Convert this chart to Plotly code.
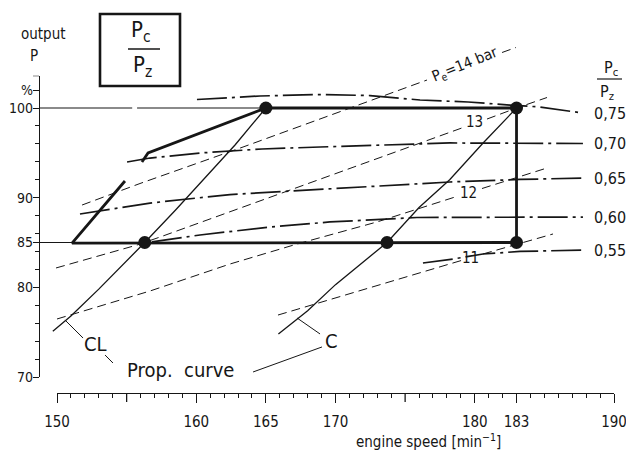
import plotly.graph_objects as go

# ---------------------------------------------------------------- data
# operating points (engine speed [1/min], output P [%])
pt_speed = [165.0, 183.0, 156.3, 173.7, 183.0]
pt_power = [100.0, 100.0, 85.0, 85.0, 85.0]

# propeller curves
cl_speed = [149.7, 151.0, 153.0, 156.3, 158.5, 160.5, 162.8, 165.0]
cl_power = [75.1, 76.8, 79.8, 85.0, 88.6, 92.0, 95.9, 100.0]
c_speed = [165.9, 168.0, 170.0, 173.7, 176.0, 178.2, 180.6, 183.0]
c_power = [74.8, 77.4, 80.3, 85.0, 88.9, 92.0, 96.1, 100.0]

# layout limit lines
top_speed = [183.0, 165.0, 156.54, 156.1]
top_power = [100.0, 100.0, 94.98, 93.98]
low_speed = [154.88, 151.08, 183.0, 183.0]
low_power = [91.86, 84.94, 85.0, 100.0]
ref100_a_speed = [148.71, 155.40]
ref100_b_speed = [155.75, 165.0]
ref100_power = [100.0, 100.0]
ref85_speed = [148.71, 151.08]
ref85_power = [85.0, 85.0]

# pc/pz curves
pcpz_labels = ["0,75", "0,70", "0,65", "0,60", "0,55"]
r75_speed = [160.05, 162.42, 164.58, 168.89, 172.48, 176.07, 179.52, 182.53, 184.69, 187.77]
r75_power = [100.95, 101.17, 101.34, 101.5, 101.39, 100.89, 100.67, 100.33, 100.11, 99.44]
r70_speed = [155.03, 156.68, 160.27, 164.72, 168.89, 178.22, 187.77]
r70_power = [93.98, 94.42, 94.98, 95.43, 95.65, 96.1, 96.04]
r65_speed = [151.65, 156.68, 162.42, 170.32, 178.22, 183.25, 187.77]
r65_power = [88.18, 89.4, 90.35, 91.08, 91.75, 92.03, 92.19]
r60_speed = [156.82, 160.27, 165.3, 169.6, 175.85, 181.81, 187.77]
r60_power = [85.06, 85.84, 86.73, 87.29, 87.79, 87.84, 87.84]
r55_speed = [176.28, 178.44, 180.59, 183.25, 187.77]
r55_power = [82.71, 83.16, 83.72, 84.0, 84.16]

# mean effective pressure lines (bar)
pe_labels = ["13", "12", "11"]
pe14_speed = [151.8, 155.96, 163.36, 176.57]
pe14_power = [89.18, 91.58, 95.65, 103.12]
pe14_tail_speed = [181.96, 182.96]
pe14_tail_power = [106.19, 106.75]
pe13_speed = [149.93, 155.75, 157.4, 165.3, 178.01, 179.16]
pe13_power = [82.16, 84.72, 85.61, 90.07, 97.21, 97.82]
pe13_tail_speed = [180.88, 183.01, 185.19]
pe13_tail_power = [98.77, 100.0, 101.17]
pe12_speed = [150.0, 156.68, 162.42, 167.24, 172.98, 178.58]
pe12_power = [76.47, 79.59, 82.6, 84.83, 87.29, 90.07]
pe12_tail_speed = [180.52, 185.19]
pe12_tail_power = [91.02, 93.31]
pe11_speed = [165.87, 172.48, 179.16]
pe11_power = [76.91, 79.93, 83.05]
pe11_tail_speed = [180.59, 185.62]
pe11_tail_power = [83.72, 85.95]

# leader lines for the curve labels
lead_cl_speed = [150.57, 151.87]
lead_cl_power = [76.36, 74.35]
lead_cl2_speed = [153.45, 154.02]
lead_cl2_power = [72.45, 71.56]
lead_prop_speed = [164.08, 169.03]
lead_prop_power = [70.56, 73.35]
lead_c_speed = [167.24, 168.89]
lead_c_power = [76.58, 74.8]

# axes ticks
x_major = [150, 160, 165, 170, 180, 183, 190]
x_major_text = ["150", "160", "165", "170", "180", "183", "190"]
x_long_unlabelled = [155, 175]
x_minor = [v for v in range(151, 190) if v not in x_major + x_long_unlabelled]
y_major = [70, 80, 85, 90, 100, 102]
y_major_text = ["70", "80", "85", "90", "100", "%"]
y_minor = [v for v in range(72, 102, 2) if v not in y_major]

# ---------------------------------------------------------------- layout helpers
W, H = 626, 451
INK = "#161616"
FONT = "DejaVu Sans Condensed, Liberation Sans Narrow, DejaVu Sans, sans-serif"
X0_PX, X1_PX, XA, XB = 57, 614, 150.0, 190.0
Y0_PX, Y1_PX, YA, YB = 377, 108, 70.0, 100.0
sx = (X1_PX - X0_PX) / (XB - XA)
sy = (Y0_PX - Y1_PX) / (YB - YA)
x_full = [XA - X0_PX / sx, XA + (W - X0_PX) / sx]
y_full = [YA - (H - Y0_PX) / sy, YA + Y0_PX / sy]
Y_TOP = 103.6
ytop_px = Y0_PX - (Y_TOP - YA) * sy
XAXIS_PX = 393
YAXIS_PX = 39


def pxx(p):
    return p / W


def pxy(p):
    return 1 - p / H


fig = go.Figure()


def line(xs, ys, width=1.2, dash="solid"):
    fig.add_trace(go.Scatter(x=xs, y=ys, mode="lines", hoverinfo="skip",
                             line=dict(color=INK, width=width, dash=dash)))


DASHDOT = "30px,5px,3px,5px"
DASH = "9px,5px"

# pe lines
for xs, ys in [(pe14_speed, pe14_power), (pe14_tail_speed, pe14_tail_power),
               (pe13_speed, pe13_power), (pe13_tail_speed, pe13_tail_power),
               (pe12_speed, pe12_power), (pe12_tail_speed, pe12_tail_power),
               (pe11_speed, pe11_power), (pe11_tail_speed, pe11_tail_power)]:
    line(xs, ys, 1.0, DASH)

# pc/pz curves
for xs, ys in [(r75_speed, r75_power), (r70_speed, r70_power), (r65_speed, r65_power),
               (r60_speed, r60_power), (r55_speed, r55_power)]:
    line(xs, ys, 1.7, DASHDOT)

# thin reference lines and propeller curves
line(ref100_a_speed, ref100_power, 1.1)
line(ref100_b_speed, ref100_power, 1.1)
line(ref85_speed, ref85_power, 1.1)
line(cl_speed, cl_power, 1.3)
line(c_speed, c_power, 1.3)
for xs, ys in [(lead_cl_speed, lead_cl_power), (lead_cl2_speed, lead_cl2_power),
               (lead_prop_speed, lead_prop_power), (lead_c_speed, lead_c_power)]:
    line(xs, ys, 1.0)

# thick layout limits
line(top_speed, top_power, 2.8)
line(low_speed, low_power, 2.8)

# operating points on the visible axes
fig.add_trace(go.Scatter(x=pt_speed, y=pt_power, mode="markers", xaxis="x2", yaxis="y2",
                         hoverinfo="skip", cliponaxis=False,
                         marker=dict(color=INK, size=13)))

axis_common = dict(showgrid=False, zeroline=False, showline=True, linecolor=INK, linewidth=1.4,
                   ticks="outside", tickcolor=INK, tickwidth=1.3, fixedrange=True,
                   automargin=False, ticklabeloverflow="allow",
                   tickfont=dict(family=FONT, size=15, color=INK))

fig.update_layout(
    template="none",
    width=W, height=H, margin=dict(l=0, r=0, t=0, b=0, pad=0, autoexpand=False),
    paper_bgcolor="white", plot_bgcolor="rgba(0,0,0,0)", showlegend=False,
    xaxis=dict(domain=[0, 1], range=x_full, visible=False, fixedrange=True, automargin=False),
    yaxis=dict(domain=[0, 1], range=y_full, visible=False, fixedrange=True, automargin=False),
    xaxis2=dict(domain=[pxx(X0_PX), pxx(X1_PX)], range=[XA, XB], anchor="free",
                position=pxy(XAXIS_PX), side="bottom", tickmode="array", tickvals=x_major,
                ticktext=x_major_text, ticklen=9, ticklabelstandoff=6,
                minor=dict(tickmode="array", tickvals=x_minor, ticklen=4, ticks="outside",
                           tickcolor=INK, tickwidth=1.1),
                **axis_common),
    yaxis2=dict(domain=[pxy(Y0_PX), pxy(ytop_px)], range=[YA, Y_TOP], anchor="free",
                position=pxx(YAXIS_PX), side="left", tickmode="array", tickvals=y_major,
                ticktext=y_major_text, ticklen=6, ticklabelstandoff=-3,
                minor=dict(tickmode="array", tickvals=y_minor, ticklen=4, ticks="outside",
                           tickcolor=INK, tickwidth=1.1),
                **axis_common),
)
fig.update_yaxes(tickfont=dict(family=FONT, size=14, color=INK), selector=dict(anchor="free"))

ann = []


def text(s, x, y, size=15, ref="paper", angle=0, xanchor="center"):
    if ref == "paper":
        ann.append(dict(text=s, x=pxx(x), y=pxy(y), xref="paper", yref="paper", showarrow=False,
                        textangle=angle, xanchor=xanchor, yanchor="middle",
                        font=dict(family=FONT, size=size, color=INK)))
    else:
        ann.append(dict(text=s, x=x, y=y, xref="x", yref="y", showarrow=False,
                        textangle=angle, xanchor=xanchor, yanchor="middle",
                        font=dict(family=FONT, size=size, color=INK)))


text("output", 43, 34, 15)
text("P", 34, 56, 15)
text("engine speed [min<sup>−1</sup>]", 428, 441, 15)

# pc/pz labels at the curve ends
for lab, ys in zip(pcpz_labels, [r75_power, r70_power, r65_power, r60_power, r55_power]):
    text(lab, 188.45, ys[-1], 16, ref="data", xanchor="left")
text("P<sub>c</sub>", 611, 69, 16)
text("P<sub>z</sub>", 607, 93, 16)

# pe labels
text("P<sub>e</sub>=14 bar", 179.3, 104.9, 15, ref="data", angle=-22)
for lab, xs, ys in zip(pe_labels, [179.98, 179.52, 179.66], [98.44, 90.52, 83.27]):
    text(lab, xs, ys, 15, ref="data")

# curve names
text("CL", 152.8, 73.68, 20, ref="data")
text("C", 169.7, 74.01, 20, ref="data")
text("Prop.&nbsp; curve", 158.9, 70.78, 20, ref="data")

# box in the upper left
text("P<sub>c</sub>", 141, 32, 22)
text("P<sub>z</sub>", 142, 66, 22)
fig.update_layout(annotations=ann, shapes=[
    dict(type="rect", xref="paper", yref="paper", x0=pxx(100), x1=pxx(180), y0=pxy(86), y1=pxy(14),
         line=dict(color=INK, width=2.6)),
    dict(type="line", xref="paper", yref="paper", x0=pxx(128), x1=pxx(160), y0=pxy(49), y1=pxy(49),
         line=dict(color=INK, width=1.5)),
    dict(type="line", xref="paper", yref="paper", x0=pxx(597), x1=pxx(622), y0=pxy(79), y1=pxy(79),
         line=dict(color=INK, width=1.2)),
] + [
    dict(type="line", xref="x2", yref="paper", x0=v, x1=v, y0=pxy(XAXIS_PX), y1=pxy(XAXIS_PX + 9),
         line=dict(color=INK, width=1.3)) for v in x_long_unlabelled
] + [
    dict(type="line", xref="paper", yref="y2", x0=pxx(YAXIS_PX - 6), x1=pxx(YAXIS_PX),
         y0=Y_TOP, y1=Y_TOP, line=dict(color=INK, width=1.3)),
])

fig.write_html("out.html")
